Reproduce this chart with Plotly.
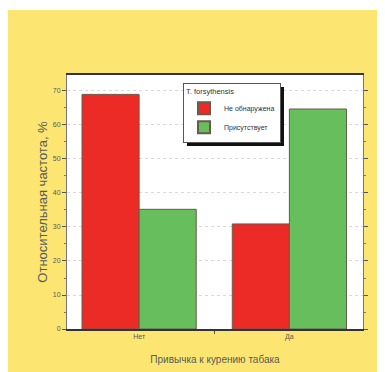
import plotly.graph_objects as go

categories = ["Нет", "Да"]
series_names = ["Не обнаружена", "Присутствует"]
not_found = [69.0, 30.9]
present = [35.2, 64.7]
y_ticks = [0, 10, 20, 30, 40, 50, 60, 70]

red = "#EC2A26"
green = "#66BE5C"
yellow = "#FCE570"
txt = "#5a5a5a"
font_family = "Liberation Sans, Arial, sans-serif"

fig = go.Figure()
fig.add_trace(go.Bar(x=categories, y=not_found, name=series_names[0],
                     marker=dict(color=red, line=dict(color="#6b5a4a", width=1))))
fig.add_trace(go.Bar(x=categories, y=present, name=series_names[1],
                     marker=dict(color=green, line=dict(color="#6b5a4a", width=1))))

# page body has an 8px margin; figure sized to fit the window
OFF = 8
W, H = 385 - OFF, 372 - OFF
# plot area in screen px: x 67-363, y 75-329
L, R, T, B = 67 - OFF, W - (363 - OFF), 75 - OFF, H - (329 - OFF)

def px_x(p):
    return (p - OFF - L) / (W - L - R)

def px_y(p):
    return (H - B - (p - OFF)) / (H - T - B)

shapes = [
    # white strip at the very top
    dict(type="rect", xref="paper", yref="paper",
         x0=px_x(0), x1=px_x(400), y0=px_y(10), y1=px_y(0),
         fillcolor="white", line=dict(width=0), layer="below"),
    # legend shadow
    dict(type="rect", xref="paper", yref="paper",
         x0=px_x(187), x1=px_x(284), y0=px_y(146), y1=px_y(87),
         fillcolor="#111111", line=dict(width=0), layer="above"),
]

fig.update_layout(
    width=W, height=H,
    margin=dict(l=L, r=R, t=T, b=B, autoexpand=False),
    paper_bgcolor=yellow,
    plot_bgcolor="white",
    barmode="group", bargap=0.24, bargroupgap=0,
    font=dict(family=font_family, color=txt, size=7),
    shapes=shapes,
    showlegend=True,
    legend=dict(
        title=dict(text="T. forsythensis", font=dict(size=7.5, color="#333")),
        x=px_x(183), y=px_y(83), xanchor="left", yanchor="top",
        bgcolor="white", bordercolor="#555", borderwidth=1,
        font=dict(size=7, color="#333"),
        tracegroupgap=0, itemsizing="constant",
    ),
    xaxis=dict(
        range=[-0.48, 1.49], type="category", automargin=False,
        showline=True, linecolor="#333", linewidth=1.5, mirror=True,
        ticks="outside", tickson="boundaries", ticklen=3, tickcolor="#555",
        tickfont=dict(size=7, color=txt),
        title=dict(text="Привычка к курению табака", font=dict(size=10, color=txt), standoff=16),
        showgrid=False,
    ),
    yaxis=dict(
        range=[0, 74.7], tickvals=y_ticks, automargin=False,
        showline=True, linecolor="#777", linewidth=1, mirror="allticks",
        ticks="outside", ticklen=4, tickcolor="#555",
        minor=dict(ticks="outside", ticklen=2, dtick=5, tickcolor="#777", showgrid=False),
        tickfont=dict(size=7, color=txt),
        showgrid=True, gridcolor="#d8d8d8", griddash="dot", gridwidth=1,
        zeroline=False,
        title=dict(text="Относительная частота, %", font=dict(size=13, color=txt), standoff=2),
    ),
)

fig.write_html("out.html")
